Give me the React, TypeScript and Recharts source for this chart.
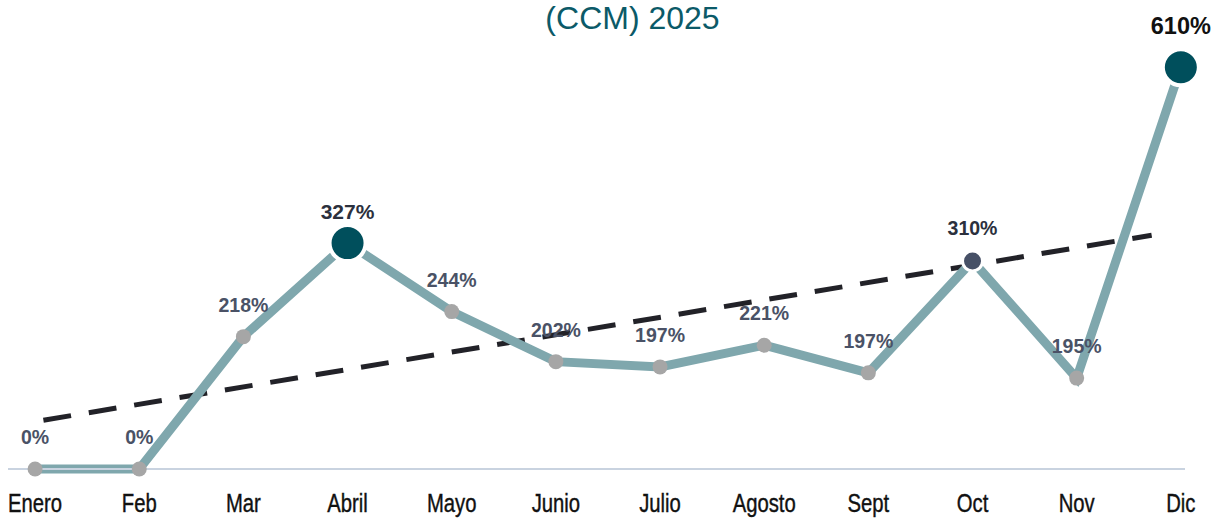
import { LineChart, Line, XAxis, YAxis } from 'recharts';

const months = ['Enero', 'Feb', 'Mar', 'Abril', 'Mayo', 'Junio', 'Julio', 'Agosto', 'Sept', 'Oct', 'Nov', 'Dic'];
const values = [0, 0, 201, 343, 239, 163, 155, 188, 146, 316, 138, 610];
const valueLabels = ['0%', '0%', '218%', '327%', '244%', '202%', '197%', '221%', '197%', '310%', '195%', '610%'];
const trendX = [0.08, 10.72];
const trendValues = [74, 355];

const data = months.map((m, i) => ({ x: i, v: values[i] }));
const trendData = trendX.map((x, i) => ({ x, t: trendValues[i] }));

// highlighted points: big teal for the peaks, slate for Oct
const bigIdx = [3, 11];
const midIdx = [9];

const renderDot = (props: any) => {
  const { cx, cy, index } = props;
  if (bigIdx.includes(index)) {
    return <circle key={`d-${index}`} cx={cx} cy={cy} r={18} fill="#004f5c" stroke="#fff" strokeWidth={4} />;
  }
  if (midIdx.includes(index)) {
    return <circle key={`d-${index}`} cx={cx} cy={cy} r={10} fill="#465066" stroke="#fff" strokeWidth={3} />;
  }
  return <circle key={`d-${index}`} cx={cx} cy={cy} r={7.5} fill="#a6a6a6" />;
};

const renderLabel = (props: any) => {
  const { x, y, index } = props;
  let size = 19.5;
  let color = '#4a5266';
  let off = 25;
  if (index === 3) { size = 21; color = '#2b303d'; off = 24; }
  if (index === 9) { size = 19.5; color = '#2b303d'; off = 26; }
  if (index === 11) { size = 23.5; color = '#111111'; off = 33; }
  return (
    <text key={`l-${index}`} x={x} y={y - off} textAnchor="middle" fontSize={size} fontWeight="bold"
      fontFamily="'Liberation Sans', Arial, sans-serif" fill={color}>
      {valueLabels[index]}
    </text>
  );
};

// condensed month labels
const MonthTick = (props: any) => {
  const { x, y, payload } = props;
  return (
    <g transform={`translate(${x},${y})`}>
      <text x={0} y={0} dy="0.71em" textAnchor="middle" transform="scale(0.78,1)" fontSize={26}
        fontFamily="'Liberation Sans', Arial, sans-serif" fill="#111" stroke="#111" strokeWidth={0.4}>
        {months[payload.value] ?? ''}
      </text>
    </g>
  );
};

export default function App() {
  return (
    <div style={{ position: 'absolute', left: 0, top: 0, width: 1215, height: 519, background: '#fff', overflow: 'hidden' }}>
      <div style={{
        position: 'absolute', top: 0, left: 0, width: 1265, textAlign: 'center',
        fontFamily: "'Liberation Sans', Arial, sans-serif", fontSize: 32, lineHeight: 'normal', color: '#0b5a68'
      }}>
        (CCM) 2025
      </div>
      <LineChart width={1215} height={519} margin={{ top: 8, right: 30, left: 8, bottom: 0 }}>
        <XAxis
          type="number"
          dataKey="x"
          domain={[-0.26, 11.04]}
          ticks={months.map((_, i) => i)}
          height={50}
          tickLine={false}
          tickSize={0}
          tickMargin={25}
          interval={0}
          axisLine={{ stroke: '#c9d3e0', strokeWidth: 2 }}
          tick={<MonthTick />}
        />
        <YAxis hide domain={[0, 700]} />
        <Line
          data={trendData}
          dataKey="t"
          stroke="#222228"
          strokeWidth={5}
          strokeDasharray="28 18"
          dot={false}
          activeDot={false}
          isAnimationActive={false}
        />
        <Line
          data={data}
          dataKey="v"
          stroke="#7fa7ad"
          strokeWidth={9}
          dot={renderDot}
          activeDot={false}
          label={renderLabel}
          isAnimationActive={false}
        />
      </LineChart>
    </div>
  );
}
